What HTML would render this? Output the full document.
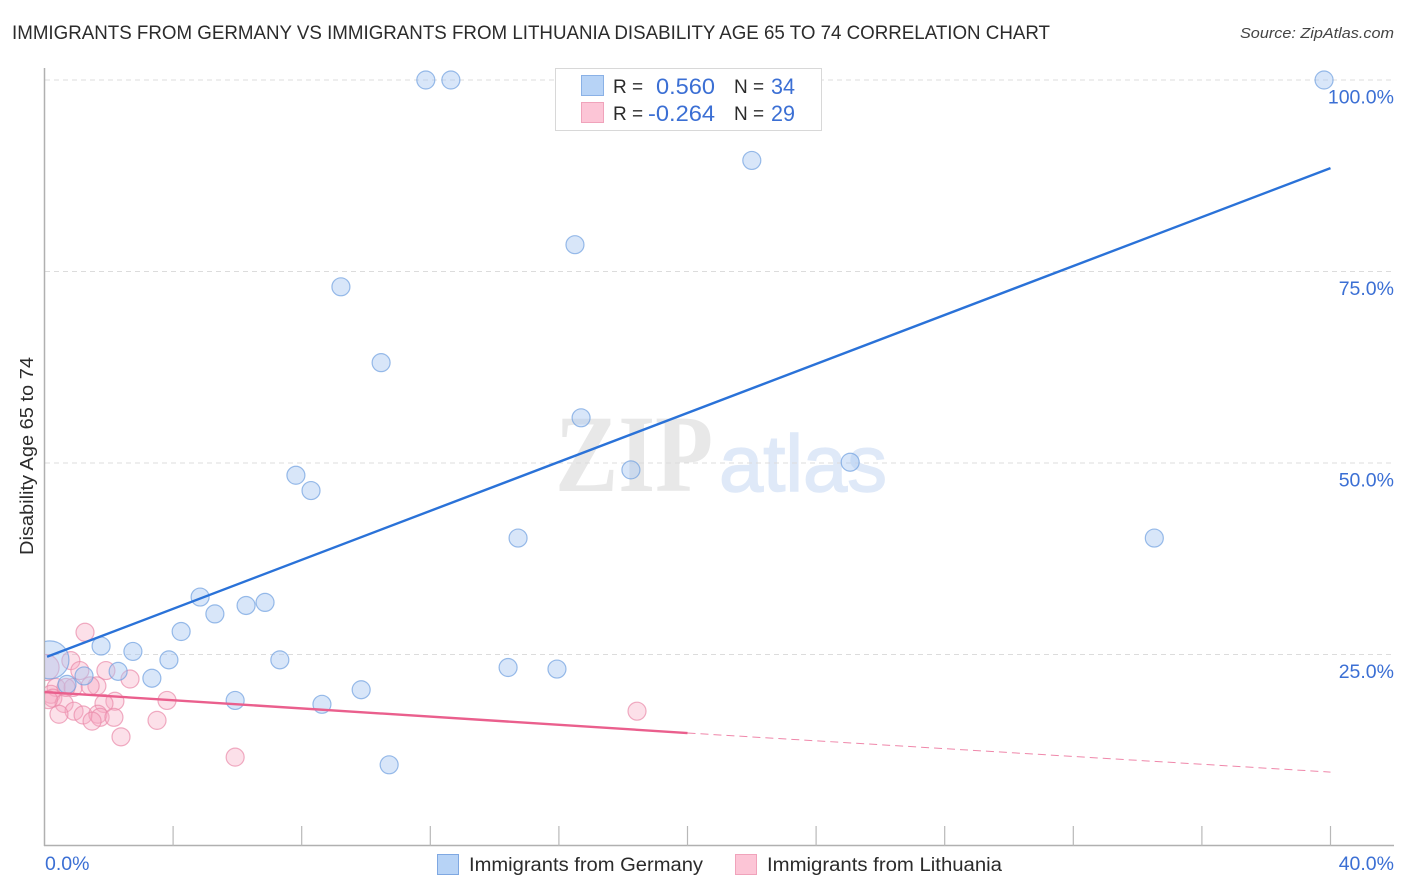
<!DOCTYPE html>
<html>
<head>
<meta charset="utf-8">
<title>Immigrants from Germany vs Immigrants from Lithuania Disability Age 65 to 74 Correlation Chart</title>
<style>
html,body{margin:0;padding:0;background:#fff;width:1406px;height:892px;overflow:hidden}
svg{display:block}
text{font-family:"Liberation Sans",sans-serif}
</style>
</head>
<body>
<svg id="chart" width="1406" height="892" viewBox="0 0 1406 892" xmlns="http://www.w3.org/2000/svg">
  <defs><clipPath id="plot-clip"><rect x="45" y="50" width="1360" height="796"></rect></clipPath></defs>
  <text x="12" y="39" font-size="19" fill="#2b2b2b" textLength="1038" lengthAdjust="spacingAndGlyphs">IMMIGRANTS FROM GERMANY VS IMMIGRANTS FROM LITHUANIA DISABILITY AGE 65 TO 74 CORRELATION CHART</text>
  <text x="1394" y="38" font-size="15" font-style="italic" fill="#444" text-anchor="end" textLength="154" lengthAdjust="spacingAndGlyphs">Source: ZipAtlas.com</text>

  <g>
    <text x="555" y="491" font-size="110" font-weight="bold" fill="#e8e8e8" style="font-family:'Liberation Serif',serif" textLength="158" lengthAdjust="spacingAndGlyphs">ZIP</text>
    <text x="719" y="491" font-size="80" fill="#dfe9f8" stroke="#dfe9f8" stroke-width="1.5" textLength="168" lengthAdjust="spacingAndGlyphs">atlas</text>
  </g>

  <g id="grid"></g>
  <g id="axes"></g>
  <g id="points" clip-path="url(#plot-clip)"></g>
  <g id="trends"></g>
  <g id="labels"></g>

  <text transform="translate(33,456) rotate(-90)" font-size="18.5" fill="#2b2b2b" text-anchor="middle" textLength="198" lengthAdjust="spacingAndGlyphs">Disability Age 65 to 74</text>

  <g>
    <rect x="555.5" y="68.5" width="266" height="62" fill="#fff" stroke="#d8d8d8"></rect>
    <rect x="581.5" y="75.5" width="22" height="20" fill="#b7d3f6" stroke="#8ab1e6"></rect>
    <rect x="581.5" y="102.5" width="22" height="20" fill="#fcc5d6" stroke="#f0a3bb"></rect>
    <text x="613" y="93" font-size="19" fill="#2b2b2b">R =</text>
    <text x="715" y="94" font-size="22" fill="#3b6fd4" text-anchor="end" textLength="59" lengthAdjust="spacingAndGlyphs">0.560</text>
    <text x="734" y="93" font-size="19" fill="#2b2b2b">N =</text>
    <text x="771" y="94" font-size="22" fill="#3b6fd4" textLength="24" lengthAdjust="spacingAndGlyphs">34</text>
    <text x="613" y="120" font-size="19" fill="#2b2b2b">R =</text>
    <text x="715" y="121" font-size="22" fill="#3b6fd4" text-anchor="end" textLength="67" lengthAdjust="spacingAndGlyphs">-0.264</text>
    <text x="734" y="120" font-size="19" fill="#2b2b2b">N =</text>
    <text x="771" y="121" font-size="22" fill="#3b6fd4" textLength="24" lengthAdjust="spacingAndGlyphs">29</text>
  </g>

  <g>
    <rect x="437.5" y="854.5" width="21" height="20" fill="#b7d3f6" stroke="#7fa8e2"></rect>
    <text x="469" y="871" font-size="19" fill="#2b2b2b" textLength="234" lengthAdjust="spacingAndGlyphs">Immigrants from Germany</text>
    <rect x="735.5" y="854.5" width="21" height="20" fill="#fcc5d6" stroke="#f0a3bb"></rect>
    <text x="767" y="871" font-size="19" fill="#2b2b2b" textLength="235" lengthAdjust="spacingAndGlyphs">Immigrants from Lithuania</text>
  </g>
</svg>
<script>
const germanyX = [11.86,12.64,39.8,22.0,16.5,9.22,10.47,16.69,18.24,25.06,7.82,8.29,14.73,34.52,4.84,6.86,6.27,5.3,4.25,1.76,2.75,3.87,7.32,14.42,15.94,2.29,3.34,1.23,0.7,5.93,9.85,8.63,10.72,0.17];
const germanyY = [100,100,100,89.5,78.5,73,63.1,55.9,49.1,50.1,48.4,46.4,40.2,40.2,32.5,31.8,31.4,30.3,28,26.1,25.4,24.3,24.3,23.3,23.1,22.8,21.9,22.2,21.1,19,20.4,18.5,10.6,24.3];
const germanySizes = [9,9,9,9,9,9,9,9,9,9,9,9,9,9,9,9,9,9,9,9,9,9,9,9,9,9,9,9,9,9,9,9,9,19];
const lithuaniaX = [1.26,0.82,1.1,1.91,2.66,0.36,1.63,1.42,0.89,0.2,2.19,1.85,3.81,0.26,0.61,0.92,0.45,1.2,1.66,1.73,1.48,2.16,3.5,2.38,5.93,18.43,0.05,0.67,0.12];
const lithuaniaY = [27.9,24.2,22.9,22.9,21.8,20.7,20.9,20.9,20.7,19.8,18.9,18.6,19.0,19.3,18.6,17.6,17.2,17.1,17.2,16.8,16.3,16.8,16.4,14.25,11.6,17.6,23.3,20.7,19.1];
const lithuaniaSizes = [9,9,9,9,9,9,9,9,9,9,9,9,9,9,9,9,9,9,9,9,9,9,9,9,9,9,13,9,9];
const xTickValues = [4,8,12,16,20,24,28,32,36,40];
const yGridValues = [25,50,75,100];
const yTickLabels = ["25.0%","50.0%","75.0%","100.0%"];
const xEndLabels = ["0.0%","40.0%"];
const germanyTrendX = [0.08,40];
const germanyTrendY = [24.7,88.5];
const lithuaniaTrendX = [0,20];
const lithuaniaTrendY = [20.1,14.75];
const lithuaniaDashX = [20,40];
const lithuaniaDashY = [14.75,9.65];

const NS = "http://www.w3.org/2000/svg";
function xScale(v){ return 44.5 + v * 32.15; }
function yScale(v){ return 846 - v * 7.66; }
function make(tag, parent, attrs){
  const el = document.createElementNS(NS, tag);
  for (const k in attrs) el.setAttribute(k, attrs[k]);
  document.getElementById(parent).appendChild(el);
  return el;
}

yGridValues.forEach(function(v){
  const line = make("line", "grid", {x1:45, x2:1394, y1:yScale(v), y2:yScale(v), stroke:"#dcdcdc", "stroke-width":1, "stroke-dasharray":"5 4"});
  
  
});

const yAxis = make("line", "axes", {x1:44.5, x2:44.5, y1:68, y2:846, stroke:"#b0b0b0", "stroke-width":1.5});


const xAxis = make("line", "axes", {x1:44, x2:1394, y1:845.5, y2:845.5, stroke:"#b0b0b0", "stroke-width":1.5});


xTickValues.forEach(function(v){
  const tick = make("line", "axes", {x1:xScale(v), x2:xScale(v), y1:826, y2:846, stroke:"#b8b8b8", "stroke-width":1.2});
  
  
});

function drawSeries(xs, ys, sizes, fill, stroke, fillOpacity){
  xs.forEach(function(x, i){
    const c = make("circle", "points", {cx:xScale(x), cy:yScale(ys[i]), r:sizes[i], fill:fill, "fill-opacity":fillOpacity, stroke:stroke, "stroke-opacity":0.7, "stroke-width":1.2});
    
    
  });
}
drawSeries(lithuaniaX, lithuaniaY, lithuaniaSizes, "#f7a8c1", "#e98aa9", 0.36);
drawSeries(germanyX, germanyY, germanySizes, "#a8c8f2", "#6f9fe0", 0.45);

const blueTrend = make("line", "trends", {x1:xScale(germanyTrendX[0]), y1:yScale(germanyTrendY[0]), x2:xScale(germanyTrendX[1]), y2:yScale(germanyTrendY[1]), stroke:"#2a72d8", "stroke-width":2.4});


const pinkTrend = make("line", "trends", {x1:xScale(lithuaniaTrendX[0]), y1:yScale(lithuaniaTrendY[0]), x2:xScale(lithuaniaTrendX[1]), y2:yScale(lithuaniaTrendY[1]), stroke:"#ea5f8d", "stroke-width":2.4});


const pinkDash = make("line", "trends", {x1:xScale(lithuaniaDashX[0]), y1:yScale(lithuaniaDashY[0]), x2:xScale(lithuaniaDashX[1]), y2:yScale(lithuaniaDashY[1]), stroke:"#ea5f8d", "stroke-width":1, "stroke-dasharray":"8 5", "stroke-opacity":0.75});



yGridValues.forEach(function(v, i){
  const t = make("text", "labels", {x:1394, y:yScale(v) + 23.5, "font-size":19.5, fill:"#3b6fd4", "text-anchor":"end"});
  t.textContent = yTickLabels[i];
  
  
});
const xLeft = make("text", "labels", {x:45, y:870, "font-size":19.5, fill:"#3b6fd4"});
xLeft.textContent = xEndLabels[0];


const xRight = make("text", "labels", {x:1394, y:870, "font-size":19.5, fill:"#3b6fd4", "text-anchor":"end"});
xRight.textContent = xEndLabels[1];


</script>
</body>
</html>
